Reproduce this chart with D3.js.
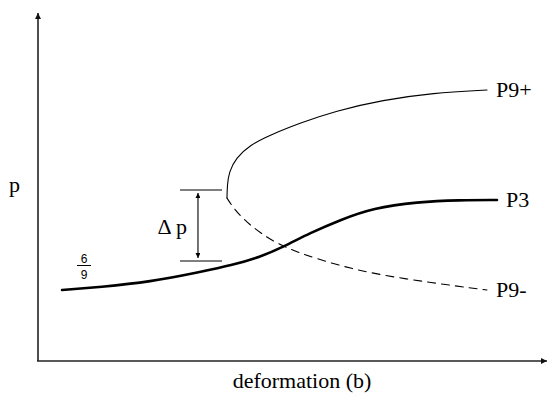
<!DOCTYPE html>
<html>
<head>
<meta charset="utf-8">
<script src="https://cdn.jsdelivr.net/npm/d3@7"></script>
<style>
  html, body { margin: 0; padding: 0; background: #fff; }
  svg { display: block; }
</style>
</head>
<body>
<svg id="chart" width="548" height="401"></svg>
<script>
// Branches of p versus deformation b (arbitrary units, 0–100 on both axes)
const p3Deform  = [4.72, 12.18, 22.0, 31.83, 38.31, 43.61, 48.13, 53.44, 59.33, 65.82, 74.46, 82.91, 90.18];
const p3Values  = [20.34, 21.2, 22.64, 25.5, 27.51, 29.8, 32.66, 36.68, 40.4, 43.84, 45.56, 46.13, 46.13];

const p9PlusDeform = [37.13, 37.19, 37.52, 38.9, 41.65, 45.58, 51.47, 58.35, 67.78, 77.6, 88.21];
const p9PlusValues = [46.7, 50.43, 54.15, 58.17, 61.89, 64.76, 68.19, 71.63, 74.79, 76.79, 77.65];

const p9MinusDeform = [37.13, 38.11, 40.28, 43.61, 48.13, 55.4, 64.64, 77.6, 88.21];
const p9MinusValues = [46.7, 44.41, 40.69, 36.68, 32.66, 28.94, 25.21, 22.35, 20.34];

const seriesNames = ["P3", "P9+", "P9-"];

// Δp gap marker: p levels and the deformation span of its guide lines
const deltaPLevels = [49.0, 28.65];
const deltaPSpan   = [27.9, 36.15];
const deltaPArrowB = 31.43;

const startFraction = ["6", "9"];

const SERIF = "'Liberation Serif', 'DejaVu Serif', serif";
const SANS = "'Liberation Sans', 'DejaVu Sans', sans-serif";

const svg = d3.select("#chart");

const x = d3.scaleLinear().domain([0, 100]).range([38, 547]);
const y = d3.scaleLinear().domain([0, 100]).range([361, 12]);

// arrowheads
const defs = svg.append("defs");
defs.append("marker")
  .attr("id", "axisArrow").attr("viewBox", "0 0 10 10")
  .attr("refX", 10).attr("refY", 5)
  .attr("markerWidth", 4).attr("markerHeight", 4)
  .attr("markerUnits", "strokeWidth").attr("orient", "auto")
  .append("path").attr("d", "M0,0 L10,5 L0,10 Z").attr("fill", "#111");
defs.append("marker")
  .attr("id", "gapArrow").attr("viewBox", "0 0 10 10")
  .attr("refX", 10).attr("refY", 5)
  .attr("markerWidth", 7).attr("markerHeight", 5)
  .attr("markerUnits", "userSpaceOnUse").attr("orient", "auto-start-reverse")
  .append("path").attr("d", "M0,0 L10,5 L0,10 Z").attr("fill", "#000");

// axes (no ticks, arrow tipped)
const xAxis = d3.axisBottom(x).tickValues([]).tickSizeOuter(0);
const yAxis = d3.axisLeft(y).tickValues([]).tickSizeOuter(0);
const gx = svg.append("g").attr("transform", `translate(0,${y(0)})`).call(xAxis);
const gy = svg.append("g").attr("transform", `translate(${x(0)},0)`).call(yAxis);
gx.select(".domain").attr("stroke", "#222").attr("stroke-width", 1.6)
  .attr("d", `M${x(0) - 1},0H${x(100)}`).attr("marker-end", "url(#axisArrow)");
gy.select(".domain").attr("stroke", "#222").attr("stroke-width", 1.6)
  .attr("d", `M0,${y(0)}V${y(100) + 1}`).attr("marker-end", "url(#axisArrow)");

function label(sel, size) {
  return sel.style("font-family", SERIF).style("font-size", size + "px").attr("fill", "#000");
}

// axis titles
label(svg.append("text").attr("x", 9).attr("y", 192), 22).text("p");
label(svg.append("text").attr("x", 302).attr("y", 388).attr("text-anchor", "middle"), 22)
  .text("deformation (b)");

const zip = (xs, ys) => xs.map((d, i) => [d, ys[i]]);
const line = d3.line().x(d => x(d[0])).y(d => y(d[1])).curve(d3.curveBasis);

const branches = [
  { name: seriesNames[0], pts: zip(p3Deform, p3Values), width: 2.6, dash: null },
  { name: seriesNames[1], pts: zip(p9PlusDeform, p9PlusValues), width: 1.1, dash: null },
  { name: seriesNames[2], pts: zip(p9MinusDeform, p9MinusValues), width: 1.1, dash: "8,6" }
];

svg.append("g").selectAll("path").data(branches).join("path")
  .attr("d", d => line(d.pts))
  .attr("fill", "none").attr("stroke", "#000")
  .attr("stroke-width", d => d.width)
  .attr("stroke-dasharray", d => d.dash)
  .attr("stroke-linecap", "round");

// series labels at the right end of each branch
label(svg.append("g").selectAll("text").data(branches).join("text")
  .attr("x", d => x(d.pts[d.pts.length - 1][0]) + 9)
  .attr("y", d => y(d.pts[d.pts.length - 1][1]) + 7), 22)
  .text(d => d.name);

// Δp marker
svg.append("g").selectAll("line").data(deltaPLevels).join("line")
  .attr("x1", x(deltaPSpan[0])).attr("x2", x(deltaPSpan[1]))
  .attr("y1", d => y(d)).attr("y2", d => y(d))
  .attr("stroke", "#000").attr("stroke-width", 1.1);
svg.append("line")
  .attr("x1", x(deltaPArrowB)).attr("x2", x(deltaPArrowB))
  .attr("y1", y(deltaPLevels[0]) + 3).attr("y2", y(deltaPLevels[1]) - 3)
  .attr("stroke", "#000").attr("stroke-width", 1.1)
  .attr("marker-start", "url(#gapArrow)").attr("marker-end", "url(#gapArrow)");
label(svg.append("text")
  .attr("x", x(deltaPArrowB) - 11).attr("y", (y(deltaPLevels[0]) + y(deltaPLevels[1])) / 2 + 8)
  .attr("text-anchor", "end"), 22).text("Δ p");

// starting value of P3 written as a fraction
const fx = 84;
const frac = svg.append("g");
frac.append("text").attr("x", fx).attr("y", 263).attr("text-anchor", "middle")
  .style("font-family", SANS).style("font-size", "12px").attr("fill", "#000").text(startFraction[0]);
frac.append("line").attr("x1", fx - 7).attr("x2", fx + 7).attr("y1", 265.5).attr("y2", 265.5)
  .attr("stroke", "#000").attr("stroke-width", 1);
frac.append("text").attr("x", fx).attr("y", 279).attr("text-anchor", "middle")
  .style("font-family", SANS).style("font-size", "12px").attr("fill", "#000").text(startFraction[1]);
</script>
</body>
</html>
